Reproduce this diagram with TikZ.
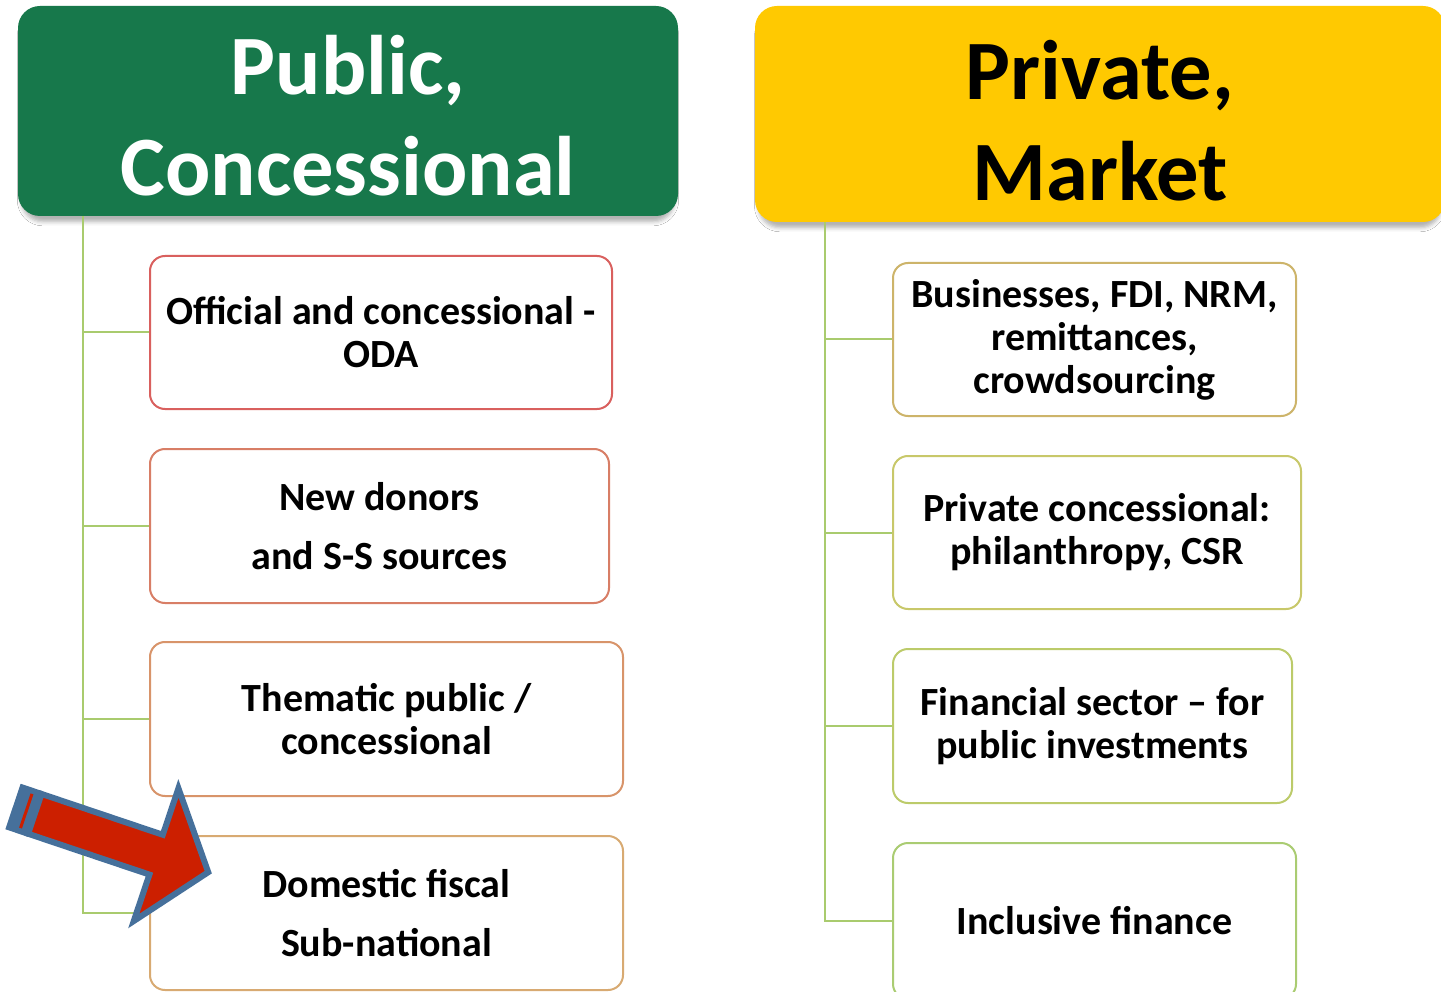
\documentclass[tikz,border=0pt]{standalone}
\usepackage{fontspec}
\setmainfont{Carlito}
\usetikzlibrary{shadows.blur}
\definecolor{hgreen}{HTML}{17784B}
\definecolor{hyellow}{HTML}{FFC901}
\definecolor{conngreen}{HTML}{A9CB6E}
\definecolor{bl1}{HTML}{D9605E}
\definecolor{bl2}{HTML}{D87E66}
\definecolor{bl3}{HTML}{D8946A}
\definecolor{bl4}{HTML}{D8AA72}
\definecolor{br1}{HTML}{CDB46A}
\definecolor{br2}{HTML}{C8C86A}
\definecolor{br3}{HTML}{BCCB6A}
\definecolor{br4}{HTML}{AACC72}
\definecolor{arrblue}{HTML}{46709B}
\definecolor{arrred}{HTML}{CC1F00}
\begin{document}
\begin{tikzpicture}[x=1pt,y=-1pt,
  header/.style={rounded corners=22pt, inner sep=0pt,
    blur shadow={shadow xshift=0pt, shadow yshift=-7pt, shadow blur radius=4pt, shadow opacity=30, shadow scale=0.99}},
  htext/.style={inner sep=0pt, align=center, font=\bfseries\fontsize{84.5}{101}\selectfont},
  itembox/.style={draw, line width=2pt, rounded corners=15pt, fill=white, inner sep=0pt, align=center,
    font=\bfseries\fontsize{40}{43}\selectfont},
  widebox/.style={itembox, font=\bfseries\fontsize{40}{59}\selectfont},
  conn/.style={draw=conngreen, line width=2pt}]
\useasboundingbox (0,0) rectangle (1441,992);
\clip (0,0) rectangle (1441,992);
\fill[white] (0,0) rectangle (1441,992);

% headers
\node[header, fill=hgreen, minimum width=660pt, minimum height=210pt] (pc) at (348,111) {};
\node[htext, text=white] (pct) at ([yshift=-5pt]pc.center) {Public,\\Concessional};
\node[header, fill=hyellow, minimum width=690pt, minimum height=216pt] (pm) at (1100,114) {};
\node[htext, text=black] (pmt) at ([yshift=-7pt]pm.center) {Private,\\Market};

% left boxes
\node[itembox, draw=bl1, minimum width=462pt, minimum height=153pt] (l1) at (381,332.5) {Official and concessional -\\ODA};
\node[widebox, draw=bl2, minimum width=459pt, minimum height=154pt] (l2) at (379.5,526) {New donors\\and S-S sources};
\node[itembox, draw=bl3, minimum width=473pt, minimum height=154pt] (l3) at (386.5,719) {Thematic public /\\concessional};
\node[widebox, draw=bl4, minimum width=473pt, minimum height=154pt] (l4) at (386.5,913) {Domestic fiscal\\Sub-national};

% right boxes
\node[itembox, draw=br1, minimum width=403pt, minimum height=153pt] (r1) at (1094.5,339.5) {Businesses, FDI, NRM,\\remittances,\\crowdsourcing};
\node[itembox, draw=br2, minimum width=408pt, minimum height=153pt] (r2) at (1097,532.5) {Private concessional:\\philanthropy, CSR};
\node[itembox, draw=br3, minimum width=399pt, minimum height=154pt] (r3) at (1092.5,726) {Financial sector – for\\public investments};
\node[itembox, draw=br4, minimum width=403pt, minimum height=156pt] (r4) at (1094.5,921) {Inclusive finance};

% connectors
\foreach \b in {l1,l2,l3,l4} \draw[conn] ([xshift=65pt]pc.south west) |- (\b.west);
\foreach \b in {r1,r2,r3,r4} \draw[conn] ([xshift=70pt]pm.south west) |- (\b.west);

% striped block arrow
\begin{scope}[shift={(13,806.5)}, rotate=-18.6]
  \fill[arrblue] (0,-24) rectangle (24,24);
  \draw[arrred, line width=3pt] (14,-18) -- (14,18);
  \filldraw[fill=arrred, draw=arrblue, line width=6pt, miter limit=10]
    (23,-21) -- (151,-21) -- (151,-70) -- (206,0) -- (151,70) -- (151,21) -- (23,21) -- cycle;
\end{scope}
\end{tikzpicture}
\end{document}
